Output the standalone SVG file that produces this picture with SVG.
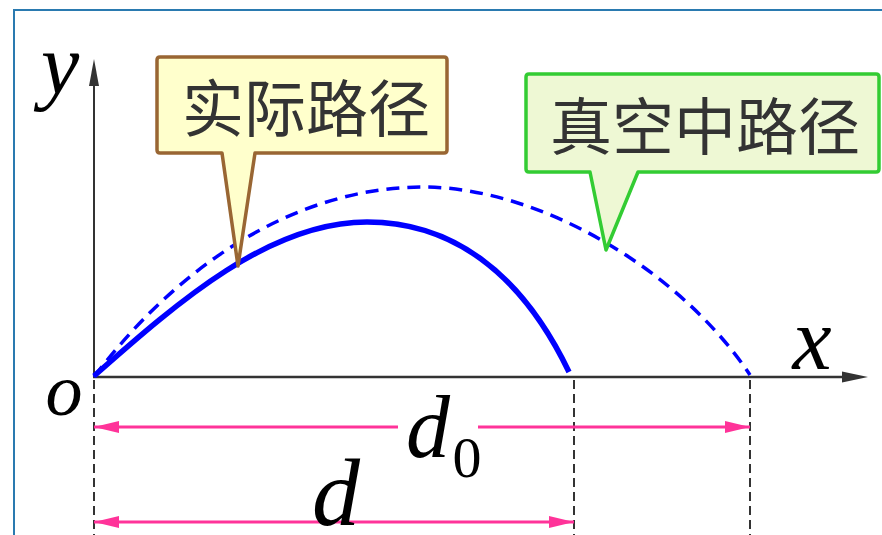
<svg xmlns="http://www.w3.org/2000/svg" width="882" height="535" viewBox="0 0 882 535">
<style>
.axis{stroke:#333;fill:none}
.guide{stroke:#333;stroke-width:2;stroke-dasharray:9 5;fill:none}
.dim{stroke:#ff3399;stroke-width:3;fill:none}
.math{font-family:"Liberation Serif","Times New Roman",serif;font-style:italic;fill:#000}
.cn{font-family:"Noto Sans CJK SC",sans-serif;fill:#333;font-size:62px;text-anchor:middle}
</style>
<defs>
<marker id="pink" viewBox="0 0 25 12" refX="25" refY="6" markerWidth="25" markerHeight="12" markerUnits="userSpaceOnUse" orient="auto-start-reverse">
<path d="M0,0 L25,6 L0,12 Z" fill="#ff3399"/>
</marker>
</defs>
<rect width="882" height="535" fill="#fff"/>
<path id="frame" d="M14,535 V10 H882" fill="none" stroke="#2a7ab0" stroke-width="2"/>
<g id="axes">
<line class="axis" x1="94" y1="378" x2="94" y2="80" stroke-width="2"/>
<path d="M94,59 L99,86 L89,86 Z" fill="#333"/>
<line class="axis" x1="93" y1="377" x2="850" y2="377" stroke-width="2.5"/>
<path d="M868,377 L842,371.5 L842,382.5 Z" fill="#333"/>
<text class="math" x="60" y="93" font-size="86" text-anchor="middle">y</text>
<text class="math" x="812" y="369" font-size="88" text-anchor="middle">x</text>
<text class="math" x="64" y="415" font-size="74" text-anchor="middle">o</text>
</g>
<g id="guides">
<line class="guide" x1="94" y1="380" x2="94" y2="535"/>
<line class="guide" x1="574" y1="380" x2="574" y2="535"/>
<line class="guide" x1="750" y1="380" x2="750" y2="535"/>
</g>
<g id="curves">
<path id="vacuum-path" d="M94,377 C190,250 310,187 423,187 C540,187 680,270 750,375" fill="none" stroke="#0000ff" stroke-width="3.5" stroke-dasharray="13 8"/>
<path id="actual-path" d="M94,376 C180,300 270,222 367,222 C450,222 520,270 569,372" fill="none" stroke="#0000ff" stroke-width="5.5"/>
</g>
<g id="connectors">
<line class="dim" x1="94" y1="427" x2="398" y2="427" marker-start="url(#pink)"/>
<line class="dim" x1="478" y1="427" x2="750" y2="427" marker-end="url(#pink)"/>
<line class="dim" x1="94" y1="522" x2="574" y2="522" marker-start="url(#pink)" marker-end="url(#pink)"/>
</g>
<g id="label-d0">
<text class="math" x="428" y="457" font-size="88" text-anchor="middle">d</text>
<text x="467" y="477" font-size="58" text-anchor="middle" font-family="Liberation Serif,'Times New Roman',serif">0</text>
</g>
<g id="label-d">
<text class="math" x="336" y="525" font-size="96" text-anchor="middle">d</text>
</g>
<g id="callout-actual">
<path d="M160,57 H444 Q447,57 447,60 V150 Q447,153 444,153 H255 L238,266 L222,153 H160 Q157,153 157,150 V60 Q157,57 160,57 Z" fill="#ffffcc" stroke="#996633" stroke-width="3.5" stroke-linejoin="round"/>
<text class="cn" x="306" y="132">实际路径</text>
</g>
<g id="callout-vacuum">
<path d="M529,74 H876 Q879,74 879,77 V169 Q879,172 876,172 H638 L606,250 L590,172 H529 Q526,172 526,169 V77 Q526,74 529,74 Z" fill="#eef8d4" stroke="#33cc33" stroke-width="3.5" stroke-linejoin="round"/>
<text class="cn" x="705" y="150">真空中路径</text>
</g>
</svg>
